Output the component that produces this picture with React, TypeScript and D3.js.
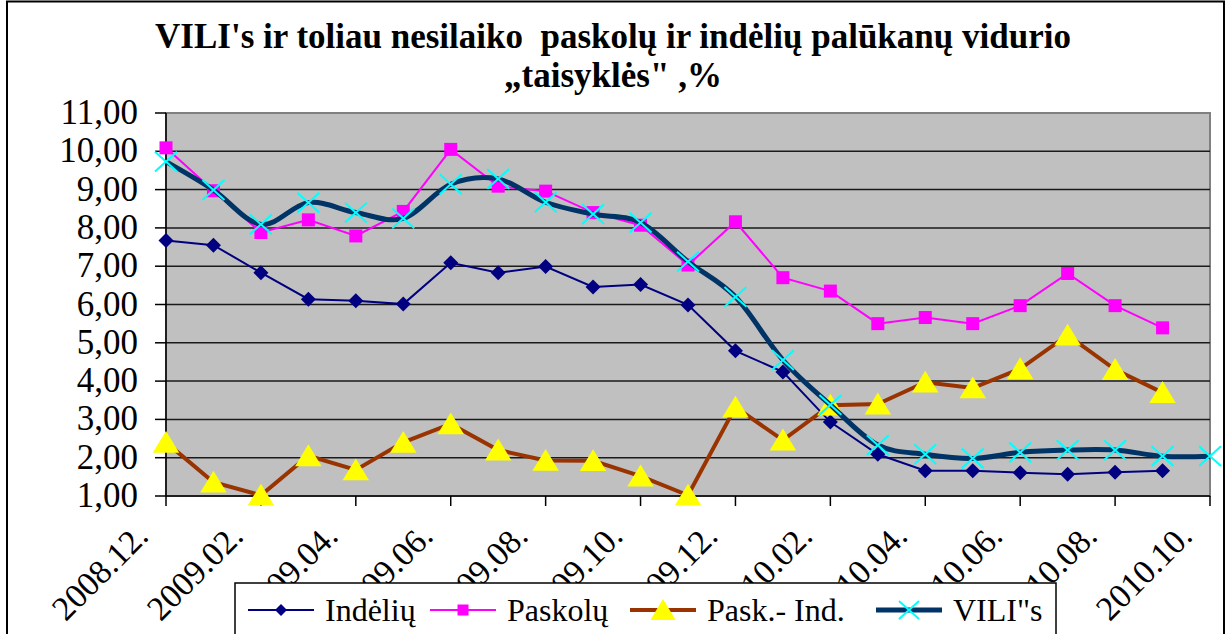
import React from 'react';
import * as d3 from 'd3';

// months from 2008.12 to 2010.10
const months = [
  '2008.12.', '2009.01.', '2009.02.', '2009.03.', '2009.04.', '2009.05.', '2009.06.', '2009.07.',
  '2009.08.', '2009.09.', '2009.10.', '2009.11.', '2009.12.', '2010.01.', '2010.02.', '2010.03.',
  '2010.04.', '2010.05.', '2010.06.', '2010.07.', '2010.08.', '2010.09.', '2010.10.',
];
// series values, % (null = no value)
const indeliu = [7.67, 7.55, 6.83, 6.14, 6.10, 6.01, 7.09, 6.83, 6.99, 6.46, 6.52, 5.99, 4.79, 4.24, 2.93, 2.09, 1.66, 1.66, 1.61, 1.57, 1.62, 1.66, null];
const paskolu = [10.09, 8.97, 7.88, 8.21, 7.79, 8.43, 10.05, 9.09, 8.96, 8.40, 8.07, 7.03, 8.16, 6.70, 6.35, 5.50, 5.66, 5.50, 5.97, 6.81, 5.97, 5.39, null];
const paskInd = [2.40, 1.36, 1.02, 2.05, 1.68, 2.40, 2.88, 2.20, 1.93, 1.92, 1.52, 1.02, 3.32, 2.46, 3.37, 3.40, 3.97, 3.82, 4.32, 5.20, 4.30, 3.70, null];
const vili = [9.73, 8.99, 8.09, 8.66, 8.40, 8.25, 9.14, 9.28, 8.67, 8.36, 8.14, 7.12, 6.20, 4.55, 3.38, 2.33, 2.09, 1.98, 2.14, 2.20, 2.20, 2.04, 2.04];
const yTicks = [1, 2, 3, 4, 5, 6, 7, 8, 9, 10, 11];
const titleLines = ["VILI's ir toliau nesilaiko  paskolų ir indėlių palūkanų vidurio", '„taisyklės" ,%'];
const legendNames = ['Indėlių', 'Paskolų', 'Pask.- Ind.', 'VILI"s'];

const W = 1227;
const H = 634;
const plot = { left: 166, top: 113, right: 1210, bottom: 496 };
const FONT = '"Liberation Serif", "Times New Roman", serif';

const x = d3.scalePoint<string>().domain(months).range([plot.left, plot.right]);
const y = d3.scaleLinear().domain([1, 11]).range([plot.bottom, plot.top]);

const fmt = (v: number) => v.toFixed(2).replace('.', ',');

type Pt = { m: string; v: number };
const pts = (vals: (number | null)[]): Pt[] =>
  vals.map((v, i) => ({ m: months[i], v: v as number })).filter((d) => d.v != null);

const straight = d3.line<Pt>().x((d) => x(d.m)!).y((d) => y(d.v));
const smooth = d3.line<Pt>().x((d) => x(d.m)!).y((d) => y(d.v)).curve(d3.curveCatmullRom.alpha(0));

const Diamond = ({ cx, cy, r }: { cx: number; cy: number; r: number }) => (
  <path d={`M${cx},${cy - r}L${cx + r},${cy}L${cx},${cy + r}L${cx - r},${cy}Z`} fill="#000080" />
);
const Square = ({ cx, cy, r }: { cx: number; cy: number; r: number }) => (
  <rect x={cx - r} y={cy - r} width={2 * r} height={2 * r} fill="#ff00ff" />
);
const Tri = ({ cx, cy, r }: { cx: number; cy: number; r: number }) => (
  <path d={`M${cx},${cy - r}L${cx + r * 1.15},${cy + r * 0.9}L${cx - r * 1.15},${cy + r * 0.9}Z`} fill="#ffff00" />
);
const Cross = ({ cx, cy, r }: { cx: number; cy: number; r: number }) => (
  <path d={`M${cx - r},${cy - r * 0.9}L${cx + r},${cy + r * 0.9}M${cx - r},${cy + r * 0.9}L${cx + r},${cy - r * 0.9}`}
    stroke="#00ffff" strokeWidth={2} fill="none" />
);

const tickMonths = months.filter((_, i) => i % 2 === 0);

export default function App() {
  const legendItems = [
    { name: legendNames[0], x0: 248, color: '#000080', w: 2, M: Diamond, r: 6 },
    { name: legendNames[1], x0: 430, color: '#ff00ff', w: 2, M: Square, r: 5.5 },
    { name: legendNames[2], x0: 630, color: '#993300', w: 4, M: Tri, r: 11 },
    { name: legendNames[3], x0: 876, color: '#003366', w: 5, M: Cross, r: 10 },
  ];
  return (
    <svg width={W} height={H} style={{ position: 'absolute', left: 0, top: 0, display: 'block', background: '#fff' }}
      fontFamily={FONT}>
      <rect x={7} y={1.5} width={1217} height={700} fill="#fff" stroke="#000" strokeWidth={2} />

      {titleLines.map((t, i) => (
        <text key={i} x={613} y={48 + i * 39} textAnchor="middle" fontSize={35} fontWeight="bold"
          style={{ whiteSpace: 'pre' }}>{t}</text>
      ))}

      {/* plot area */}
      <rect x={plot.left} y={plot.top} width={plot.right - plot.left} height={plot.bottom - plot.top}
        fill="#c0c0c0" stroke="#808080" strokeWidth={2} />
      {yTicks.map((t) => (
        <g key={t}>
          {t > 1 && t < 11 && (
            <line x1={plot.left} x2={plot.right} y1={y(t)} y2={y(t)} stroke="#1a1a1a" strokeWidth={1.5} />
          )}
          <line x1={plot.left - 11} x2={plot.left} y1={y(t)} y2={y(t)} stroke="#000" strokeWidth={1.5} />
          <text x={138} y={y(t) + 11} textAnchor="end" fontSize={35}>{fmt(t)}</text>
        </g>
      ))}
      <line x1={plot.left} x2={plot.left} y1={plot.top} y2={plot.bottom} stroke="#000" strokeWidth={1.5} />
      <line x1={plot.left} x2={plot.right} y1={plot.bottom} y2={plot.bottom} stroke="#000" strokeWidth={1.5} />
      {tickMonths.map((m) => (
        <g key={m}>
          <line x1={x(m)} x2={x(m)} y1={plot.bottom} y2={plot.bottom + 10} stroke="#000" strokeWidth={1.5} />
          <text transform={`translate(${x(m)! - 16},${plot.bottom + 42}) rotate(-45)`} textAnchor="end" fontSize={34}>{m}</text>
        </g>
      ))}

      {/* series */}
      <path d={straight(pts(indeliu))!} fill="none" stroke="#000080" strokeWidth={2} />
      {pts(indeliu).map((d) => <Diamond key={d.m} cx={x(d.m)!} cy={y(d.v)} r={7.5} />)}

      <path d={straight(pts(paskolu))!} fill="none" stroke="#ff00ff" strokeWidth={2} />
      {pts(paskolu).map((d) => <Square key={d.m} cx={x(d.m)!} cy={y(d.v)} r={6.5} />)}

      <path d={straight(pts(paskInd))!} fill="none" stroke="#993300" strokeWidth={4} />
      {pts(paskInd).map((d) => <Tri key={d.m} cx={x(d.m)!} cy={y(d.v)} r={11.5} />)}

      <path d={smooth(pts(vili))!} fill="none" stroke="#003366" strokeWidth={5} />
      {pts(vili).map((d) => <Cross key={d.m} cx={x(d.m)!} cy={y(d.v)} r={11} />)}

      {/* legend */}
      <rect x={235} y={583} width={821} height={80} fill="#fff" stroke="#000" strokeWidth={1.5} />
      {legendItems.map((it) => (
        <g key={it.name}>
          <line x1={it.x0} x2={it.x0 + 66} y1={610} y2={610} stroke={it.color} strokeWidth={it.w} />
          <it.M cx={it.x0 + 33} cy={610} r={it.r} />
          <text x={it.x0 + 77} y={621} fontSize={32}>{it.name}</text>
        </g>
      ))}
    </svg>
  );
}
